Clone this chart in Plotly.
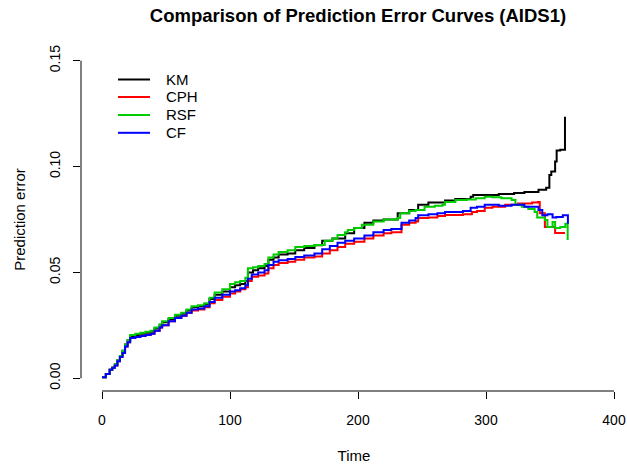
import plotly.graph_objects as go

# ---------------- data ----------------
km_time = [0, 3, 6, 8, 10, 12, 14, 16, 18, 20, 22, 26, 30, 34, 38, 41, 45, 47, 52, 57, 62, 66, 70, 75, 80, 84, 88, 94,
           100, 104, 108, 112, 114, 118, 122, 127, 130, 134, 138, 145, 151, 158, 166, 172, 180, 190, 197, 205, 212,
           220, 229, 231, 240, 247, 255, 262, 268, 276, 288, 290, 300, 310, 322, 330, 341, 347, 349.5, 351, 354,
           355.2, 358, 361.7]
km_err = [0.0005, 0.002, 0.004, 0.005, 0.0065, 0.0085, 0.0105, 0.013, 0.016, 0.018, 0.020, 0.0205, 0.021, 0.0215,
          0.022, 0.0235, 0.025, 0.0265, 0.028, 0.0295, 0.0305, 0.032, 0.0335, 0.034, 0.035, 0.0375, 0.0395, 0.041,
          0.043, 0.044, 0.0445, 0.046, 0.050, 0.051, 0.052, 0.053, 0.056, 0.057, 0.0585, 0.059, 0.0605, 0.0615,
          0.0628, 0.065, 0.066, 0.0685, 0.071, 0.0735, 0.0745, 0.075, 0.075, 0.078, 0.0795, 0.082, 0.083, 0.083,
          0.084, 0.0847, 0.0857, 0.0866, 0.0866, 0.087, 0.0875, 0.088, 0.089, 0.090, 0.096, 0.0977, 0.1024, 0.1076,
          0.108, 0.1235]

cph_time = [0, 3, 6, 8, 10, 12, 14, 16, 18, 20, 22, 26, 30, 34, 38, 41, 45, 47, 52, 57, 62, 66, 70, 75, 80, 84, 88, 94,
            100, 104, 108, 112, 114, 117, 122, 127, 130, 134, 138, 145, 151, 158, 166, 172, 178, 184, 190, 197, 205,
            212, 220, 226, 234, 240, 245, 247, 255, 262, 268, 276, 282, 289, 293, 299, 305, 315, 325, 336, 340.6,
            342, 346, 350, 354, 358, 361.7]
cph_err = [0.0005, 0.002, 0.004, 0.005, 0.006, 0.008, 0.010, 0.012, 0.015, 0.017, 0.019, 0.0195, 0.020, 0.0205,
           0.021, 0.0225, 0.024, 0.025, 0.027, 0.0285, 0.0295, 0.031, 0.032, 0.0325, 0.0335, 0.0355, 0.037, 0.0385,
           0.040, 0.041, 0.042, 0.043, 0.046, 0.048, 0.0485, 0.0495, 0.052, 0.0535, 0.0545, 0.055, 0.056, 0.057,
           0.0575, 0.059, 0.0605, 0.062, 0.0635, 0.0645, 0.066, 0.0675, 0.0685, 0.069, 0.0725, 0.0735, 0.074,
           0.0757, 0.076, 0.0767, 0.0771, 0.0771, 0.0775, 0.0786, 0.079, 0.0805, 0.081, 0.082, 0.0825, 0.083,
           0.0833, 0.078, 0.0715, 0.0715, 0.0686, 0.0686, 0.0686]

rsf_time = [0, 3, 6, 8, 10, 12, 14, 16, 18, 20, 22, 26, 30, 34, 38, 41, 45, 47, 52, 57, 62, 66, 70, 75, 80, 84, 88, 94,
            100, 104, 108, 112, 114, 118, 122, 127, 130, 134, 138, 145, 151, 158, 166, 174, 180, 184, 190, 192, 197,
            203, 212, 220, 231, 233, 240, 245, 252, 260, 266, 268, 276, 285, 292, 299, 305, 312, 320, 323, 328, 333,
            338, 340, 346, 348, 352, 354, 358, 360, 362, 363.8]
rsf_err = [0.0005, 0.002, 0.004, 0.005, 0.0065, 0.0085, 0.0105, 0.013, 0.016, 0.018, 0.0205, 0.021, 0.0215, 0.022,
           0.0225, 0.024, 0.0255, 0.027, 0.0285, 0.030, 0.031, 0.0325, 0.034, 0.0345, 0.0355, 0.038, 0.0405, 0.042,
           0.0445, 0.0454, 0.046, 0.0475, 0.052, 0.0525, 0.053, 0.054, 0.057, 0.0585, 0.0597, 0.0605, 0.062, 0.0625,
           0.063, 0.065, 0.066, 0.0677, 0.069, 0.070, 0.071, 0.0725, 0.074, 0.075, 0.0757, 0.078, 0.079, 0.0795,
           0.081, 0.0815, 0.082, 0.0833, 0.0842, 0.0845, 0.085, 0.0857, 0.0855, 0.085, 0.0842, 0.082, 0.081, 0.080,
           0.0786, 0.076, 0.0748, 0.0715, 0.0738, 0.071, 0.0715, 0.0715, 0.073, 0.0653]

cf_time = [0, 3, 6, 8, 10, 12, 14, 16, 18, 20, 22, 26, 30, 34, 38, 41, 45, 47, 52, 57, 62, 66, 70, 75, 80, 84, 88, 94,
           100, 104, 108, 112, 114, 117, 122, 127, 130, 134, 138, 145, 151, 158, 166, 172, 178, 184, 190, 197, 205,
           212, 220, 226, 234, 240, 245, 247, 255, 262, 268, 276, 282, 288, 293, 299, 310, 320, 330, 341, 344, 348,
           352, 355, 360, 364]
cf_err = [0.0005, 0.002, 0.004, 0.005, 0.006, 0.008, 0.010, 0.012, 0.015, 0.017, 0.019, 0.0195, 0.020, 0.0205,
          0.021, 0.0225, 0.024, 0.025, 0.027, 0.0285, 0.0295, 0.031, 0.0325, 0.033, 0.034, 0.036, 0.038, 0.0395,
          0.041, 0.0416, 0.0425, 0.044, 0.047, 0.049, 0.050, 0.051, 0.0535, 0.055, 0.0558, 0.0563, 0.0573, 0.058,
          0.059, 0.061, 0.0625, 0.064, 0.065, 0.066, 0.0675, 0.069, 0.070, 0.0705, 0.0735, 0.0745, 0.0757, 0.077,
          0.0775, 0.078, 0.0786, 0.0786, 0.079, 0.0805, 0.081, 0.082, 0.0815, 0.082, 0.081, 0.0795, 0.077, 0.0775,
          0.076, 0.0762, 0.077, 0.073]

series_names = ["KM", "CPH", "RSF", "CF"]
series_colors = ["#000000", "#FF0000", "#00CD00", "#0000FF"]
series_time = [km_time, cph_time, rsf_time, cf_time]
series_err = [km_err, cph_err, rsf_err, cf_err]

x_ticks = [0, 100, 200, 300, 400]
y_ticks = [0.00, 0.05, 0.10, 0.15]
y_tick_text = ["0.00", "0.05", "0.10", "0.15"]

FONT = "Liberation Sans, Arial, sans-serif"

fig = go.Figure()
for name, t, v, col in zip(series_names, series_time, series_err, series_colors):
    fig.add_trace(go.Scatter(x=t, y=v, mode="lines", name=name, showlegend=False,
                             line=dict(color=col, width=2, shape="hv")))

W, H = 627, 465
L, R, T, B = 81, 0, 48, 74
x0_px, px_per_unit = 102, 1.28
x_lo = -(x0_px - L) / px_per_unit
x_hi = (W - R - x0_px) / px_per_unit
PW, PH = W - L - R, H - T - B


def px_x(px):  # pixel -> paper x
    return (px - L) / PW


def px_y(py):  # pixel -> paper y
    return 1 - (py - T) / PH


fig.update_layout(
    width=W, height=H,
    margin=dict(l=L, r=R, t=T, b=B),
    paper_bgcolor="white", plot_bgcolor="white",
    font=dict(family=FONT, size=14, color="#000000"),
    title=dict(text="<b>Comparison of Prediction Error Curves (AIDS1)</b>",
               x=358 / W, xref="container", xanchor="center",
               y=1 - 16 / H, yref="container", yanchor="middle",
               font=dict(family=FONT, size=18.5, color="#000000")),
    xaxis=dict(range=[x_lo, x_hi], tickvals=x_ticks, ticks="outside", ticklen=7,
               tickcolor="#000", tickwidth=1, showgrid=False, zeroline=False, showline=False,
               ticklabelstandoff=9,
               title=dict(text="Time", standoff=23, font=dict(size=15)), tickfont=dict(size=14)),
    yaxis=dict(range=[-0.006, 0.156], tickvals=y_ticks, ticktext=y_tick_text, ticks="outside",
               ticklen=7, tickcolor="#000", tickwidth=1, tickangle=-90,
               showgrid=False, zeroline=False, showline=False,
               ticklabelstandoff=7,
               title=dict(text="Prediction error", standoff=18, font=dict(size=15)), tickfont=dict(size=14)),
    showlegend=False,
)

# R-style axis lines spanning first to last tick
fig.add_shape(type="line", xref="x", yref="paper", x0=x_ticks[0], x1=x_ticks[-1], y0=0, y1=0,
              line=dict(color="#000", width=1))
fig.add_shape(type="line", xref="paper", yref="y", x0=0, x1=0, y0=y_ticks[0], y1=y_ticks[-1],
              line=dict(color="#000", width=1))

# R-style legend (no box) at top-left
leg_rows = [79.5, 97, 115, 132.8]
for name, col, ry in zip(series_names, series_colors, leg_rows):
    fig.add_shape(type="line", xref="paper", yref="paper",
                  x0=px_x(118), x1=px_x(150), y0=px_y(ry), y1=px_y(ry),
                  line=dict(color=col, width=2))
    fig.add_annotation(xref="paper", yref="paper", x=px_x(164), y=px_y(ry),
                       xanchor="left", yanchor="middle", text=name, showarrow=False,
                       font=dict(family=FONT, size=15, color="#000"))

fig.write_html("out.html")
